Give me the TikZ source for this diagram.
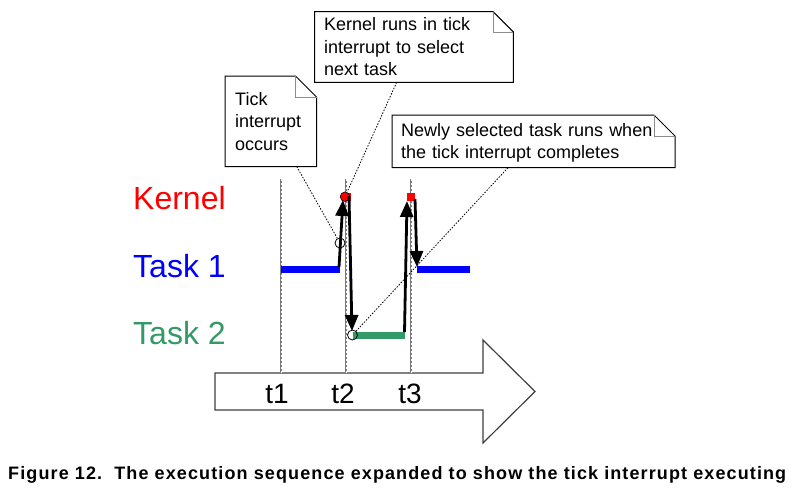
\documentclass[tikz,border=0pt]{standalone}
\usepackage{fontspec}
\setmainfont{Liberation Sans}
\newfontfamily\capfont[LetterSpace=6.2]{Liberation Sans}
\usetikzlibrary{arrows.meta}
\definecolor{kred}{HTML}{FF0000}
\definecolor{tblue}{HTML}{0000FF}
\definecolor{tgreen}{HTML}{339966}
\definecolor{vgray}{HTML}{7A7A7A}
\begin{document}
\begin{tikzpicture}[x=1pt,y=-1pt,
 lanelabel/.style={anchor=base west,inner sep=0pt,font=\fontsize{32pt}{36pt}\selectfont},
 timelabel/.style={anchor=base,inner sep=0pt,font=\fontsize{28pt}{32pt}\selectfont},
 notetext/.style={anchor=base west,inner sep=0pt,align=left,font=\fontsize{18pt}{22.5pt}\selectfont},
 notebox/.style={draw=black,line width=1pt,fill=white,line join=miter},
 foldline/.style={draw=black!45,line width=1pt},
 vline/.style={draw=vgray,line width=2.4pt},
 vdash/.style={draw=white,line width=0.8pt,dash pattern=on 2pt off 2pt},
 taskbar/.style={line width=7pt},
 flow/.style={draw=black,line width=2.8pt,-{Triangle[length=16pt,width=13pt]}},
 pointer/.style={draw=black,line width=0.8pt,dash pattern=on 1.5pt off 1.5pt},
 hollow/.style={circle,draw=black,line width=0.8pt,minimum size=10pt,inner sep=0pt},
]
\useasboundingbox (0,0) rectangle (799,496);

% time arrow
\draw[draw=black!75,line width=1.2pt,fill=white,line join=miter]
  (215,373) -- (483,373) -- (483,340) -- (535,391.5) -- (483,443) -- (483,410) -- (215,410) -- cycle;

% vertical time lines
\foreach \x/\n in {281/1,346/2,411/3} {
  \coordinate (top\n) at (\x,179);
  \coordinate (bot\n) at (\x,373);
  \draw[vline] (top\n) -- (bot\n);
  \draw[vdash] ([xshift=0.5pt]top\n) -- ([xshift=0.5pt]bot\n);
}

% time labels
\node[timelabel] (t1) at (277,403) {t1};
\node[timelabel] (t2) at (343,403) {t2};
\node[timelabel] (t3) at (410,403) {t3};

% lane labels
\node[lanelabel,text=kred] (kernel) at (133,209) {Kernel};
\node[lanelabel,text=tblue] (task1) at (133,277) {Task 1};
\node[lanelabel,text=tgreen] (task2) at (133,344) {Task 2};

% task bars
\draw[taskbar,tblue] (280.7,269.7) -- (340,269.7);
\draw[taskbar,tblue] (416.7,269.7) -- (470,269.7);
\draw[taskbar,tgreen] (352.5,335.3) -- (405,335.3);

% notes
\draw[notebox] (225,76) -- (295.5,76) -- (316.5,97) -- (316.5,166.5) -- (225,166.5) -- cycle;
\draw[foldline] (295.5,76) -- (295.5,97) -- (316.5,97);
\draw[notebox] (314.7,11.7) -- (493,11.7) -- (513.3,32) -- (513.3,82.3) -- (314.7,82.3) -- cycle;
\draw[foldline] (493,11.7) -- (493,32) -- (513.3,32);
\draw[notebox] (392,115) -- (654,115) -- (675,136) -- (675,167.7) -- (392,167.7) -- cycle;
\draw[foldline] (654,115) -- (654,136) -- (675,136);

\node[notetext,text width=80pt] (n1) at (235,105) {Tick\\interrupt\\occurs};
\node[notetext,text width=185pt] (n2) at (324,30.5) {Kernel runs in tick\\interrupt to select\\next task};
\node[notetext,text width=270pt] (n3) at (401,136) {Newly selected task runs when\\the tick interrupt completes};

\coordinate (p1) at (296.7,166.5);
\coordinate (p2) at (396.7,82.3);
\coordinate (p3) at (508,167.7);

% markers
\fill[kred] (345,192.5) rectangle (351,200.9);
\node[circle,fill=kred,draw=black,line width=0.6pt,minimum size=9.5pt,inner sep=0pt] (kc) at (345,196.7) {};
\node[rectangle,fill=kred,minimum size=8pt,inner sep=0pt] (ks) at (411.3,196.7) {};
\node[hollow] (ic) at (340,243) {};
\node[hollow] (gc) at (352.5,335) {};

% flow arrows
\coordinate (a1s) at (339,267);
\coordinate (a1e) at (343,200);
\coordinate (a2s) at (349,196);
\coordinate (a2e) at (352,331);
\coordinate (a3s) at (404.5,332);
\coordinate (a3e) at (407,201);
\coordinate (a4s) at (415,199);
\coordinate (a4e) at (417,267);
\draw[flow] (a1s) -- (a1e);
\draw[flow] (a2s) -- (a2e);
\draw[flow] (a3s) -- (a3e);
\draw[flow] (a4s) -- (a4e);

% pointers
\draw[pointer] (p1) -- (ic);
\draw[pointer] (p2) -- (kc);
\draw[pointer] (p3) -- (gc);

% caption
\node[anchor=base west,inner sep=0pt,font=\capfont\bfseries\fontsize{18pt}{20pt}\selectfont] (cap) at (8,479)
  {Figure 12.\ \ The execution sequence expanded to show the tick interrupt executing};
\end{tikzpicture}
\end{document}
